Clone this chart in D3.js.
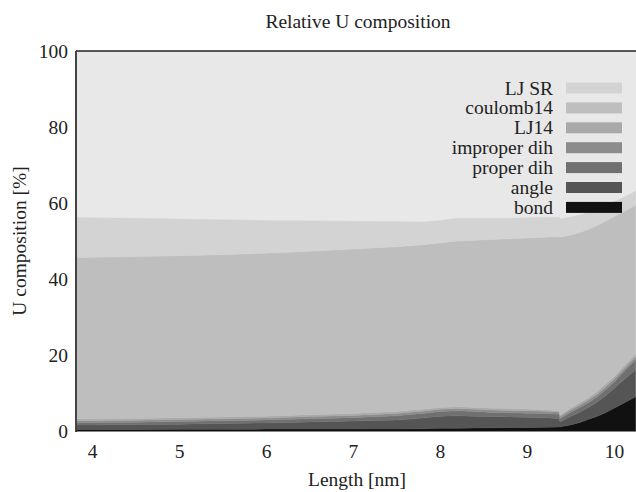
<!DOCTYPE html>
<html>
<head>
<meta charset="utf-8">
<script src="https://cdn.jsdelivr.net/npm/d3@7"></script>
<style>
  html, body { margin: 0; padding: 0; background: #fff; }
  svg { display: block; }
</style>
</head>
<body>
<svg id="chart" width="636" height="492"></svg>
<script>
// Box length (nm)
const lengths = [3.8, 4.0, 4.5, 5.0, 5.5, 6.0, 6.5, 7.0, 7.5, 7.8, 8.0, 8.2, 8.4, 8.6, 8.8, 9.0, 9.2, 9.37,
                 9.38, 9.5, 9.6, 9.7, 9.8, 9.9, 10.0, 10.1, 10.2, 10.25];

// Share of each energy term in U (%), bottom to top of the stack
const bond       = [0.4, 0.4, 0.4, 0.45, 0.45, 0.5, 0.5, 0.5, 0.55, 0.6, 0.7, 0.75, 0.8, 0.85, 0.9, 0.95, 1.0, 1.05,
                    1.1, 1.6, 2.2, 3.0, 3.8, 4.8, 6.0, 7.2, 8.4, 9.0];
const angle      = [1.2, 1.2, 1.3, 1.35, 1.55, 1.6, 1.9, 2.1, 2.35, 2.8, 3.2, 3.25, 3.1, 2.95, 2.8, 2.65, 2.5, 2.25,
                    1.3, 2.2, 2.7, 3.1, 3.7, 4.4, 5.2, 6.0, 6.8, 7.0];
const properDih  = [0.6, 0.6, 0.6, 0.7, 0.7, 0.8, 0.8, 0.9, 1.1, 1.2, 1.2, 1.3, 1.2, 1.1, 1.1, 1.1, 1.1, 1.1,
                    0.8, 1.1, 1.2, 1.3, 1.4, 1.6, 1.6, 2.1, 2.4, 2.7];
const improperDih= [0.5, 0.5, 0.5, 0.5, 0.5, 0.5, 0.6, 0.6, 0.6, 0.6, 0.6, 0.6, 0.6, 0.6, 0.6, 0.6, 0.6, 0.6,
                    0.6, 0.6, 0.7, 0.7, 0.7, 0.8, 0.8, 0.7, 0.8, 0.7];
const lj14       = [0.5, 0.5, 0.5, 0.5, 0.5, 0.5, 0.5, 0.5, 0.5, 0.5, 0.5, 0.5, 0.5, 0.5, 0.5, 0.5, 0.4, 0.3,
                    0.4, 0.5, 0.6, 0.6, 0.7, 0.7, 0.7, 0.8, 0.7, 0.8];
const coulomb14  = [42.4, 42.5, 42.6, 42.6, 42.7, 42.9, 43.0, 43.3, 43.4, 43.3, 43.3, 43.6, 44.0, 44.4, 44.7, 45.0, 45.4, 45.8,
                    46.8, 45.6, 44.8, 44.3, 43.7, 42.9, 42.1, 40.8, 39.7, 39.3];
const ljSR       = [10.6, 10.4, 10.1, 9.7, 9.2, 8.6, 8.0, 7.3, 6.6, 6.0, 5.9, 6.0, 5.8, 5.6, 5.4, 5.3, 5.2, 5.1,
                    4.8, 4.7, 4.6, 4.5, 4.3, 4.0, 3.9, 3.8, 3.7, 3.7];

const seriesNames = ["bond", "angle", "proper dih", "improper dih", "LJ14", "coulomb14", "LJ SR"];
const seriesValues = [bond, angle, properDih, improperDih, lj14, coulomb14, ljSR];
const seriesColors = ["#111111", "#555555", "#707070", "#8c8c8c", "#a9a9a9", "#bebebe", "#d3d3d3"];

const xTicks = [4, 5, 6, 7, 8, 9, 10];
const yTicks = [0, 20, 40, 60, 80, 100];

const FONT = "'Liberation Serif', 'Times New Roman', serif";
const FS = 19.5;
const INK = "#222";

const rows = lengths.map((len, i) => {
  const r = { len };
  seriesNames.forEach((name, k) => { r[name] = seriesValues[k][i]; });
  return r;
});

const svg = d3.select("#chart");
const plot = { left: 76, right: 636, top: 51, bottom: 431 };

const x = d3.scaleLinear().domain([3.816, 10.253]).range([plot.left, plot.right]);
const y = d3.scaleLinear().domain([0, 100]).range([plot.bottom, plot.top]);

// plot background
svg.append("rect")
  .attr("x", plot.left).attr("y", plot.top)
  .attr("width", plot.right - plot.left).attr("height", plot.bottom - plot.top)
  .attr("fill", "#e8e8e8");

svg.append("clipPath").attr("id", "clip")
  .append("rect")
  .attr("x", plot.left).attr("y", plot.top)
  .attr("width", plot.right - plot.left).attr("height", plot.bottom - plot.top);

const layers = d3.stack().keys(seriesNames)(rows);

const area = d3.area()
  .x(d => x(d.data.len))
  .y0(d => y(d[0]))
  .y1(d => y(d[1]))
  .curve(d3.curveLinear);

svg.append("g").attr("clip-path", "url(#clip)")
  .selectAll("path")
  .data(layers)
  .join("path")
  .attr("d", area)
  .attr("fill", (d, i) => seriesColors[i])
  .attr("stroke", (d, i) => seriesColors[i])
  .attr("stroke-width", 0.4);

// frame: top border, left axis line, baseline
svg.append("line")
  .attr("x1", plot.left).attr("x2", plot.right)
  .attr("y1", plot.top).attr("y2", plot.top)
  .attr("stroke", "#222").attr("stroke-width", 1.3);
svg.append("line")
  .attr("x1", plot.left).attr("x2", plot.left)
  .attr("y1", plot.top).attr("y2", plot.bottom + 1)
  .attr("stroke", "#444").attr("stroke-width", 2);
svg.append("line")
  .attr("x1", plot.left).attr("x2", plot.right)
  .attr("y1", plot.bottom).attr("y2", plot.bottom)
  .attr("stroke", "#111").attr("stroke-width", 1.2);

// axes (labels only, no tick marks)
const xAxis = d3.axisBottom(x).tickValues(xTicks).tickSize(0).tickPadding(13).tickFormat(d3.format("d"));
const gx = svg.append("g").attr("transform", `translate(0,${plot.bottom})`).call(xAxis);
gx.select(".domain").remove();
gx.selectAll("text").style("font-family", FONT).style("font-size", FS + "px").attr("fill", INK);

const yAxis = d3.axisLeft(y).tickValues(yTicks).tickSize(0).tickPadding(8).tickFormat(d3.format("d"));
const gy = svg.append("g").attr("transform", `translate(${plot.left},0)`).call(yAxis);
gy.select(".domain").remove();
gy.selectAll("text").style("font-family", FONT).style("font-size", FS + "px").attr("fill", INK);

// titles
svg.append("text")
  .attr("x", 358).attr("y", 28)
  .attr("text-anchor", "middle")
  .style("font-family", FONT).style("font-size", FS + "px").attr("fill", INK)
  .text("Relative U composition");

svg.append("text")
  .attr("x", 357).attr("y", 486)
  .attr("text-anchor", "middle")
  .style("font-family", FONT).style("font-size", FS + "px").attr("fill", INK)
  .text("Length [nm]");

svg.append("text")
  .attr("transform", `translate(26,241) rotate(-90)`)
  .attr("text-anchor", "middle")
  .style("font-family", FONT).style("font-size", FS + "px").attr("fill", INK)
  .text("U composition [%]");

// legend, top entry first
const legendOrder = seriesNames.map((n, i) => i).reverse();
const legend = svg.append("g");
legendOrder.forEach((k, row) => {
  const cy = 88 + row * 19.9;
  legend.append("text")
    .attr("x", 553).attr("y", cy + 6.5)
    .attr("text-anchor", "end")
    .style("font-family", FONT).style("font-size", FS + "px").attr("fill", INK)
    .text(seriesNames[k]);
  legend.append("rect")
    .attr("x", 566).attr("y", cy - 5.5)
    .attr("width", 56).attr("height", 11)
    .attr("fill", seriesColors[k]);
});
</script>
</body>
</html>
